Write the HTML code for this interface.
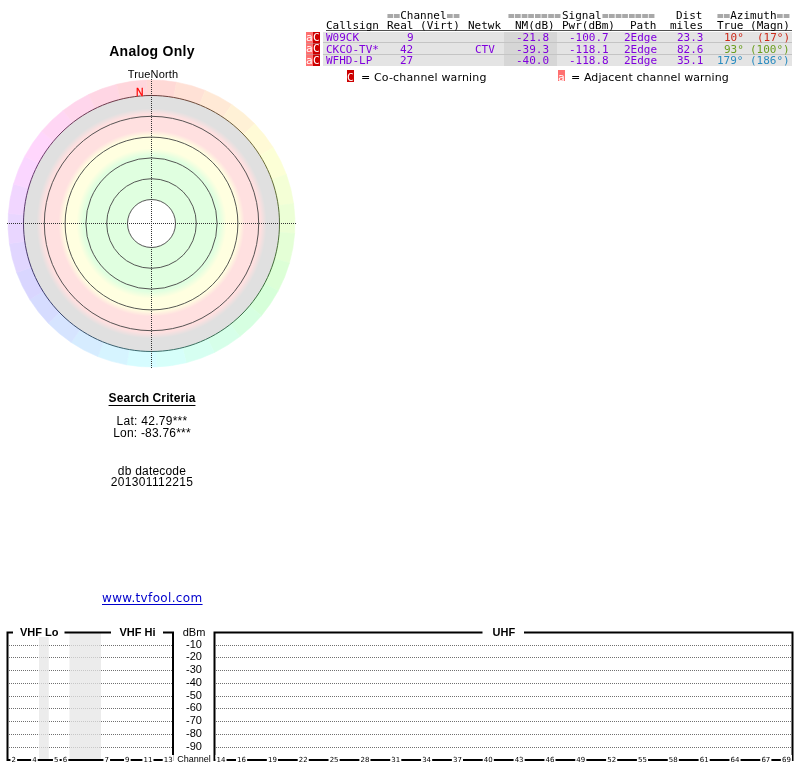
<!DOCTYPE html>
<html><head><meta charset="utf-8"><title>TV Fool</title>
<style>
html,body{margin:0;padding:0;background:#fff;}
body{width:800px;height:768px;overflow:hidden;position:relative;}
.a{position:absolute;white-space:pre;will-change:transform;}
.sans{font-family:"Liberation Sans",Arial,sans-serif;}
.dv{font-family:"DejaVu Sans",sans-serif;}
.m{font-family:"DejaVu Sans Mono",monospace;font-size:11px;line-height:11px;}
.ct{font-family:"Liberation Sans",Arial,sans-serif;font-weight:bold;font-size:11px;}
.dl{font-family:"Liberation Sans",Arial,sans-serif;font-size:11px;text-anchor:middle;}
.ch{font-family:"Liberation Sans",Arial,sans-serif;font-size:9px;text-anchor:middle;}
.cl{font-family:"DejaVu Sans",sans-serif;font-size:7px;}
.eq{color:#a8a8a8;text-shadow:0 1px 0 #a8a8a8;}
.pu{color:#8000dd;}
.row{position:absolute;left:323px;width:469px;height:11px;background:#e4e4e4;}
.nm{position:absolute;left:504px;width:53px;height:11px;background:#d6d6d6;}
.sep{position:absolute;left:323px;width:469px;height:1px;background:#c4c4c4;}
.fsep{position:absolute;left:306px;width:14px;height:1px;background:rgba(175,175,175,0.45);}
.fa{position:absolute;left:306px;width:7px;background:#ff7070;color:#fff;}
.fc{position:absolute;left:313px;width:7px;background:#cc0000;color:#fff;}
</style></head><body>
<div class="a sans" style="left:0;top:43px;width:304px;text-align:center;font-weight:bold;font-size:14px;letter-spacing:0.3px;">Analog Only</div>
<div class="a sans" style="left:0.5px;top:68px;width:304px;text-align:center;font-size:11px;letter-spacing:0.15px;">TrueNorth</div>
<svg class="a" style="left:0;top:0" width="305" height="380" viewBox="0 0 305 380">
<defs><radialGradient id="rg" cx="151.5" cy="223.5" r="128" gradientUnits="userSpaceOnUse"><stop offset="0.0000" stop-color="#e0ffe0"/><stop offset="0.5312" stop-color="#e0ffe0"/><stop offset="0.5859" stop-color="#ffffe0"/><stop offset="0.6797" stop-color="#ffffe0"/><stop offset="0.7266" stop-color="#ffe0e0"/><stop offset="0.8516" stop-color="#ffe0e0"/><stop offset="0.8984" stop-color="#e0e0e0"/><stop offset="1.0000" stop-color="#e0e0e0"/></radialGradient></defs>
<path d="M146.49 80.09A143.5 143.5 0 0 1 176.42 82.18L173.55 98.43A127.0 127.0 0 0 0 147.07 96.58Z" fill="#ffd9d6" stroke="#ffd9d6" stroke-width="0.6"/>
<path d="M176.42 82.18A143.5 143.5 0 0 1 205.26 90.45L199.08 105.75A127.0 127.0 0 0 0 173.55 98.43Z" fill="#ffe1d6" stroke="#ffe1d6" stroke-width="0.6"/>
<path d="M205.26 90.45A143.5 143.5 0 0 1 231.74 104.53L222.52 118.21A127.0 127.0 0 0 0 199.08 105.75Z" fill="#ffe9d6" stroke="#ffe9d6" stroke-width="0.6"/>
<path d="M231.74 104.53A143.5 143.5 0 0 1 254.73 123.82L242.86 135.28A127.0 127.0 0 0 0 222.52 118.21Z" fill="#fff1d6" stroke="#fff1d6" stroke-width="0.6"/>
<path d="M254.73 123.82A143.5 143.5 0 0 1 273.19 147.46L259.20 156.20A127.0 127.0 0 0 0 242.86 135.28Z" fill="#fffad6" stroke="#fffad6" stroke-width="0.6"/>
<path d="M273.19 147.46A143.5 143.5 0 0 1 286.35 174.42L270.84 180.06A127.0 127.0 0 0 0 259.20 156.20Z" fill="#fcffd6" stroke="#fcffd6" stroke-width="0.6"/>
<path d="M286.35 174.42A143.5 143.5 0 0 1 293.60 203.53L277.26 205.83A127.0 127.0 0 0 0 270.84 180.06Z" fill="#f4ffd6" stroke="#f4ffd6" stroke-width="0.6"/>
<path d="M293.60 203.53A143.5 143.5 0 0 1 294.65 233.51L278.19 232.36A127.0 127.0 0 0 0 277.26 205.83Z" fill="#ecffd6" stroke="#ecffd6" stroke-width="0.6"/>
<path d="M294.65 233.51A143.5 143.5 0 0 1 289.44 263.05L273.58 258.51A127.0 127.0 0 0 0 278.19 232.36Z" fill="#e4ffd6" stroke="#e4ffd6" stroke-width="0.6"/>
<path d="M289.44 263.05A143.5 143.5 0 0 1 278.20 290.87L263.63 283.12A127.0 127.0 0 0 0 273.58 258.51Z" fill="#dcffd6" stroke="#dcffd6" stroke-width="0.6"/>
<path d="M278.20 290.87A143.5 143.5 0 0 1 261.43 315.74L248.79 305.13A127.0 127.0 0 0 0 263.63 283.12Z" fill="#d6ffd9" stroke="#d6ffd9" stroke-width="0.6"/>
<path d="M261.43 315.74A143.5 143.5 0 0 1 239.85 336.58L229.69 323.58A127.0 127.0 0 0 0 248.79 305.13Z" fill="#d6ffe1" stroke="#d6ffe1" stroke-width="0.6"/>
<path d="M239.85 336.58A143.5 143.5 0 0 1 214.41 352.48L207.17 337.65A127.0 127.0 0 0 0 229.69 323.58Z" fill="#d6ffe9" stroke="#d6ffe9" stroke-width="0.6"/>
<path d="M214.41 352.48A143.5 143.5 0 0 1 186.22 362.74L182.22 346.73A127.0 127.0 0 0 0 207.17 337.65Z" fill="#d6fff1" stroke="#d6fff1" stroke-width="0.6"/>
<path d="M186.22 362.74A143.5 143.5 0 0 1 156.51 366.91L155.93 350.42A127.0 127.0 0 0 0 182.22 346.73Z" fill="#d6fffa" stroke="#d6fffa" stroke-width="0.6"/>
<path d="M156.51 366.91A143.5 143.5 0 0 1 126.58 364.82L129.45 348.57A127.0 127.0 0 0 0 155.93 350.42Z" fill="#d6fcff" stroke="#d6fcff" stroke-width="0.6"/>
<path d="M126.58 364.82A143.5 143.5 0 0 1 97.74 356.55L103.92 341.25A127.0 127.0 0 0 0 129.45 348.57Z" fill="#d6f4ff" stroke="#d6f4ff" stroke-width="0.6"/>
<path d="M97.74 356.55A143.5 143.5 0 0 1 71.26 342.47L80.48 328.79A127.0 127.0 0 0 0 103.92 341.25Z" fill="#d6ecff" stroke="#d6ecff" stroke-width="0.6"/>
<path d="M71.26 342.47A143.5 143.5 0 0 1 48.27 323.18L60.14 311.72A127.0 127.0 0 0 0 80.48 328.79Z" fill="#d6e4ff" stroke="#d6e4ff" stroke-width="0.6"/>
<path d="M48.27 323.18A143.5 143.5 0 0 1 29.81 299.54L43.80 290.80A127.0 127.0 0 0 0 60.14 311.72Z" fill="#d6dcff" stroke="#d6dcff" stroke-width="0.6"/>
<path d="M29.81 299.54A143.5 143.5 0 0 1 16.65 272.58L32.16 266.94A127.0 127.0 0 0 0 43.80 290.80Z" fill="#d9d6ff" stroke="#d9d6ff" stroke-width="0.6"/>
<path d="M16.65 272.58A143.5 143.5 0 0 1 9.40 243.47L25.74 241.17A127.0 127.0 0 0 0 32.16 266.94Z" fill="#e1d6ff" stroke="#e1d6ff" stroke-width="0.6"/>
<path d="M9.40 243.47A143.5 143.5 0 0 1 8.35 213.49L24.81 214.64A127.0 127.0 0 0 0 25.74 241.17Z" fill="#e9d6ff" stroke="#e9d6ff" stroke-width="0.6"/>
<path d="M8.35 213.49A143.5 143.5 0 0 1 13.56 183.95L29.42 188.49A127.0 127.0 0 0 0 24.81 214.64Z" fill="#f1d6ff" stroke="#f1d6ff" stroke-width="0.6"/>
<path d="M13.56 183.95A143.5 143.5 0 0 1 24.80 156.13L39.37 163.88A127.0 127.0 0 0 0 29.42 188.49Z" fill="#fad6ff" stroke="#fad6ff" stroke-width="0.6"/>
<path d="M24.80 156.13A143.5 143.5 0 0 1 41.57 131.26L54.21 141.87A127.0 127.0 0 0 0 39.37 163.88Z" fill="#ffd6fc" stroke="#ffd6fc" stroke-width="0.6"/>
<path d="M41.57 131.26A143.5 143.5 0 0 1 63.15 110.42L73.31 123.42A127.0 127.0 0 0 0 54.21 141.87Z" fill="#ffd6f4" stroke="#ffd6f4" stroke-width="0.6"/>
<path d="M63.15 110.42A143.5 143.5 0 0 1 88.59 94.52L95.83 109.35A127.0 127.0 0 0 0 73.31 123.42Z" fill="#ffd6ec" stroke="#ffd6ec" stroke-width="0.6"/>
<path d="M88.59 94.52A143.5 143.5 0 0 1 116.78 84.26L120.78 100.27A127.0 127.0 0 0 0 95.83 109.35Z" fill="#ffd6e4" stroke="#ffd6e4" stroke-width="0.6"/>
<path d="M116.78 84.26A143.5 143.5 0 0 1 146.49 80.09L147.07 96.58A127.0 127.0 0 0 0 120.78 100.27Z" fill="#ffd6dc" stroke="#ffd6dc" stroke-width="0.6"/>
<circle cx="151.5" cy="223.5" r="128" fill="url(#rg)"/>
<circle cx="151.5" cy="223.5" r="24.00" fill="#fff"/>
<circle cx="151.5" cy="223.5" r="24.00" fill="none" stroke="#444" stroke-width="0.9"/><circle cx="151.5" cy="223.5" r="44.80" fill="none" stroke="#444" stroke-width="0.9"/><circle cx="151.5" cy="223.5" r="65.60" fill="none" stroke="#444" stroke-width="0.9"/><circle cx="151.5" cy="223.5" r="86.40" fill="none" stroke="#444" stroke-width="0.9"/><circle cx="151.5" cy="223.5" r="107.20" fill="none" stroke="#444" stroke-width="0.9"/><path d="M145.92 95.62A128 128 0 0 1 157.08 95.62" fill="none" stroke="#6d3b3b" stroke-width="1"/><path d="M157.08 95.62A128 128 0 0 1 168.21 96.60" fill="none" stroke="#6d3f3b" stroke-width="1"/><path d="M168.21 96.60A128 128 0 0 1 179.20 98.53" fill="none" stroke="#6d433b" stroke-width="1"/><path d="M179.20 98.53A128 128 0 0 1 189.99 101.42" fill="none" stroke="#6d483b" stroke-width="1"/><path d="M189.99 101.42A128 128 0 0 1 200.48 105.24" fill="none" stroke="#6d4c3b" stroke-width="1"/><path d="M200.48 105.24A128 128 0 0 1 210.60 109.96" fill="none" stroke="#6d503b" stroke-width="1"/><path d="M210.60 109.96A128 128 0 0 1 220.27 115.55" fill="none" stroke="#6d543b" stroke-width="1"/><path d="M220.27 115.55A128 128 0 0 1 229.42 121.95" fill="none" stroke="#6d583b" stroke-width="1"/><path d="M229.42 121.95A128 128 0 0 1 237.98 129.13" fill="none" stroke="#6d5d3b" stroke-width="1"/><path d="M237.98 129.13A128 128 0 0 1 245.87 137.02" fill="none" stroke="#6d613b" stroke-width="1"/><path d="M245.87 137.02A128 128 0 0 1 253.05 145.58" fill="none" stroke="#6d653b" stroke-width="1"/><path d="M253.05 145.58A128 128 0 0 1 259.45 154.73" fill="none" stroke="#6d693b" stroke-width="1"/><path d="M259.45 154.73A128 128 0 0 1 265.04 164.40" fill="none" stroke="#6d6d3b" stroke-width="1"/><path d="M265.04 164.40A128 128 0 0 1 269.76 174.52" fill="none" stroke="#696d3b" stroke-width="1"/><path d="M269.76 174.52A128 128 0 0 1 273.58 185.01" fill="none" stroke="#656d3b" stroke-width="1"/><path d="M273.58 185.01A128 128 0 0 1 276.47 195.80" fill="none" stroke="#616d3b" stroke-width="1"/><path d="M276.47 195.80A128 128 0 0 1 278.40 206.79" fill="none" stroke="#5d6d3b" stroke-width="1"/><path d="M278.40 206.79A128 128 0 0 1 279.38 217.92" fill="none" stroke="#586d3b" stroke-width="1"/><path d="M279.38 217.92A128 128 0 0 1 279.38 229.08" fill="none" stroke="#546d3b" stroke-width="1"/><path d="M279.38 229.08A128 128 0 0 1 278.40 240.21" fill="none" stroke="#506d3b" stroke-width="1"/><path d="M278.40 240.21A128 128 0 0 1 276.47 251.20" fill="none" stroke="#4c6d3b" stroke-width="1"/><path d="M276.47 251.20A128 128 0 0 1 273.58 261.99" fill="none" stroke="#486d3b" stroke-width="1"/><path d="M273.58 261.99A128 128 0 0 1 269.76 272.48" fill="none" stroke="#436d3b" stroke-width="1"/><path d="M269.76 272.48A128 128 0 0 1 265.04 282.60" fill="none" stroke="#3f6d3b" stroke-width="1"/><path d="M265.04 282.60A128 128 0 0 1 259.45 292.27" fill="none" stroke="#3b6d3b" stroke-width="1"/><path d="M259.45 292.27A128 128 0 0 1 253.05 301.42" fill="none" stroke="#3b6d3f" stroke-width="1"/><path d="M253.05 301.42A128 128 0 0 1 245.87 309.98" fill="none" stroke="#3b6d43" stroke-width="1"/><path d="M245.87 309.98A128 128 0 0 1 237.98 317.87" fill="none" stroke="#3b6d48" stroke-width="1"/><path d="M237.98 317.87A128 128 0 0 1 229.42 325.05" fill="none" stroke="#3b6d4c" stroke-width="1"/><path d="M229.42 325.05A128 128 0 0 1 220.27 331.45" fill="none" stroke="#3b6d50" stroke-width="1"/><path d="M220.27 331.45A128 128 0 0 1 210.60 337.04" fill="none" stroke="#3b6d54" stroke-width="1"/><path d="M210.60 337.04A128 128 0 0 1 200.48 341.76" fill="none" stroke="#3b6d58" stroke-width="1"/><path d="M200.48 341.76A128 128 0 0 1 189.99 345.58" fill="none" stroke="#3b6d5d" stroke-width="1"/><path d="M189.99 345.58A128 128 0 0 1 179.20 348.47" fill="none" stroke="#3b6d61" stroke-width="1"/><path d="M179.20 348.47A128 128 0 0 1 168.21 350.40" fill="none" stroke="#3b6d65" stroke-width="1"/><path d="M168.21 350.40A128 128 0 0 1 157.08 351.38" fill="none" stroke="#3b6d69" stroke-width="1"/><path d="M157.08 351.38A128 128 0 0 1 145.92 351.38" fill="none" stroke="#3b6d6d" stroke-width="1"/><path d="M145.92 351.38A128 128 0 0 1 134.79 350.40" fill="none" stroke="#3b696d" stroke-width="1"/><path d="M134.79 350.40A128 128 0 0 1 123.80 348.47" fill="none" stroke="#3b656d" stroke-width="1"/><path d="M123.80 348.47A128 128 0 0 1 113.01 345.58" fill="none" stroke="#3b616d" stroke-width="1"/><path d="M113.01 345.58A128 128 0 0 1 102.52 341.76" fill="none" stroke="#3b5d6d" stroke-width="1"/><path d="M102.52 341.76A128 128 0 0 1 92.40 337.04" fill="none" stroke="#3b586d" stroke-width="1"/><path d="M92.40 337.04A128 128 0 0 1 82.73 331.45" fill="none" stroke="#3b546d" stroke-width="1"/><path d="M82.73 331.45A128 128 0 0 1 73.58 325.05" fill="none" stroke="#3b506d" stroke-width="1"/><path d="M73.58 325.05A128 128 0 0 1 65.02 317.87" fill="none" stroke="#3b4c6d" stroke-width="1"/><path d="M65.02 317.87A128 128 0 0 1 57.13 309.98" fill="none" stroke="#3b486d" stroke-width="1"/><path d="M57.13 309.98A128 128 0 0 1 49.95 301.42" fill="none" stroke="#3b436d" stroke-width="1"/><path d="M49.95 301.42A128 128 0 0 1 43.55 292.27" fill="none" stroke="#3b3f6d" stroke-width="1"/><path d="M43.55 292.27A128 128 0 0 1 37.96 282.60" fill="none" stroke="#3b3b6d" stroke-width="1"/><path d="M37.96 282.60A128 128 0 0 1 33.24 272.48" fill="none" stroke="#3f3b6d" stroke-width="1"/><path d="M33.24 272.48A128 128 0 0 1 29.42 261.99" fill="none" stroke="#433b6d" stroke-width="1"/><path d="M29.42 261.99A128 128 0 0 1 26.53 251.20" fill="none" stroke="#483b6d" stroke-width="1"/><path d="M26.53 251.20A128 128 0 0 1 24.60 240.21" fill="none" stroke="#4c3b6d" stroke-width="1"/><path d="M24.60 240.21A128 128 0 0 1 23.62 229.08" fill="none" stroke="#503b6d" stroke-width="1"/><path d="M23.62 229.08A128 128 0 0 1 23.62 217.92" fill="none" stroke="#543b6d" stroke-width="1"/><path d="M23.62 217.92A128 128 0 0 1 24.60 206.79" fill="none" stroke="#583b6d" stroke-width="1"/><path d="M24.60 206.79A128 128 0 0 1 26.53 195.80" fill="none" stroke="#5d3b6d" stroke-width="1"/><path d="M26.53 195.80A128 128 0 0 1 29.42 185.01" fill="none" stroke="#613b6d" stroke-width="1"/><path d="M29.42 185.01A128 128 0 0 1 33.24 174.52" fill="none" stroke="#653b6d" stroke-width="1"/><path d="M33.24 174.52A128 128 0 0 1 37.96 164.40" fill="none" stroke="#693b6d" stroke-width="1"/><path d="M37.96 164.40A128 128 0 0 1 43.55 154.73" fill="none" stroke="#6d3b6d" stroke-width="1"/><path d="M43.55 154.73A128 128 0 0 1 49.95 145.58" fill="none" stroke="#6d3b69" stroke-width="1"/><path d="M49.95 145.58A128 128 0 0 1 57.13 137.02" fill="none" stroke="#6d3b65" stroke-width="1"/><path d="M57.13 137.02A128 128 0 0 1 65.02 129.13" fill="none" stroke="#6d3b61" stroke-width="1"/><path d="M65.02 129.13A128 128 0 0 1 73.58 121.95" fill="none" stroke="#6d3b5d" stroke-width="1"/><path d="M73.58 121.95A128 128 0 0 1 82.73 115.55" fill="none" stroke="#6d3b58" stroke-width="1"/><path d="M82.73 115.55A128 128 0 0 1 92.40 109.96" fill="none" stroke="#6d3b54" stroke-width="1"/><path d="M92.40 109.96A128 128 0 0 1 102.52 105.24" fill="none" stroke="#6d3b50" stroke-width="1"/><path d="M102.52 105.24A128 128 0 0 1 113.01 101.42" fill="none" stroke="#6d3b4c" stroke-width="1"/><path d="M113.01 101.42A128 128 0 0 1 123.80 98.53" fill="none" stroke="#6d3b48" stroke-width="1"/><path d="M123.80 98.53A128 128 0 0 1 134.79 96.60" fill="none" stroke="#6d3b43" stroke-width="1"/><path d="M134.79 96.60A128 128 0 0 1 145.92 95.62" fill="none" stroke="#6d3b3f" stroke-width="1"/>
<line x1="7" y1="223.5" x2="296" y2="223.5" stroke="#333" stroke-width="1" stroke-dasharray="1 1"/>
<line x1="151.5" y1="79" x2="151.5" y2="368" stroke="#333" stroke-width="1" stroke-dasharray="1 1"/>
</svg>
<div class="a sans" style="left:136px;top:86.3px;font-size:10.5px;color:#f00;text-shadow:0 0 1px #fff,0 0 1px #fff;-webkit-text-stroke:0.3px #f00;">N</div>

<div class="a sans" style="left:0;top:391.25px;width:304px;text-align:center;font-weight:bold;font-size:12px;letter-spacing:0.1px;text-decoration:underline;text-underline-offset:2.5px;">Search Criteria</div>
<div class="a sans" style="left:0;top:414.5px;width:304px;text-align:center;font-size:12px;line-height:13px;letter-spacing:0.28px;">Lat: 42.79***</div>
<div class="a sans" style="left:0;top:427.2px;width:304px;text-align:center;font-size:12px;line-height:13px;letter-spacing:0.2px;">Lon: -83.76***</div>
<div class="a sans" style="left:0;top:464.5px;width:304px;text-align:center;font-size:12px;line-height:12px;letter-spacing:0.2px;">db datecode</div>
<div class="a sans" style="left:0;top:476.4px;width:304px;text-align:center;font-size:12px;line-height:12px;letter-spacing:0.35px;">201301112215</div>
<div class="a dv" style="left:102px;top:591.25px;font-size:12px;color:#0000cc;text-decoration:underline;text-underline-offset:2px;letter-spacing:0.35px;">www.tvfool.com</div>

<!-- table -->
<div class="row" style="top:32px"></div>
<div class="row" style="top:43px"></div>
<div class="row" style="top:55px"></div>
<div class="nm" style="top:32px"></div>
<div class="nm" style="top:43px"></div>
<div class="nm" style="top:55px"></div>
<div class="sep" style="top:42px"></div>
<div class="sep" style="top:54px"></div>
<div class="a" style="left:326px;top:30px;width:466px;height:1px;background:#505050;"></div>

<div class="a m" style="left:387px;top:9.5px"><span class="eq">==</span>Channel<span class="eq">==</span></div>
<div class="a m" style="left:507.5px;top:9.5px"><span class="eq">========</span></div><div class="a m" style="left:562.2px;top:9.5px">Signal</div><div class="a m" style="left:601.9px;top:9.5px"><span class="eq">========</span></div>
<div class="a m" style="left:676px;top:9.5px">Dist</div>
<div class="a m" style="left:717.2px;top:9.5px"><span class="eq">==</span>Azimuth<span class="eq">==</span></div>

<div class="a m" style="left:326px;top:20px">Callsign</div>
<div class="a m" style="left:387px;top:20px">Real (Virt)</div>
<div class="a m" style="left:468.4px;top:20px">Netwk</div>
<div class="a m" style="left:515.4px;top:20px">NM(dB)</div>
<div class="a m" style="left:562px;top:20px">Pwr(dBm)</div>
<div class="a m" style="left:629.5px;top:20px">Path</div>
<div class="a m" style="left:670px;top:20px">miles</div>
<div class="a m" style="left:717.2px;top:20px">True (Magn)</div>

<div class="a m pu" style="left:326px;top:32px">W09CK</div>
<div class="a m pu" style="left:326px;top:43.5px">CKCO-TV*</div>
<div class="a m pu" style="left:326px;top:55px">WFHD-LP</div>
<div class="a m pu" style="left:407px;top:32px">9</div>
<div class="a m pu" style="left:400.4px;top:43.5px">42</div>
<div class="a m pu" style="left:400.4px;top:55px">27</div>
<div class="a m pu" style="left:475px;top:43.5px">CTV</div>
<div class="a m pu" style="left:515.5px;top:32px">-21.8</div>
<div class="a m pu" style="left:515.5px;top:43.5px">-39.3</div>
<div class="a m pu" style="left:515.5px;top:55px">-40.0</div>
<div class="a m pu" style="left:569px;top:32px">-100.7</div>
<div class="a m pu" style="left:569px;top:43.5px">-118.1</div>
<div class="a m pu" style="left:569px;top:55px">-118.8</div>
<div class="a m pu" style="left:623.5px;top:32px">2Edge</div>
<div class="a m pu" style="left:623.5px;top:43.5px">2Edge</div>
<div class="a m pu" style="left:623.5px;top:55px">2Edge</div>
<div class="a m pu" style="left:677px;top:32px">23.3</div>
<div class="a m pu" style="left:677px;top:43.5px">82.6</div>
<div class="a m pu" style="left:677px;top:55px">35.1</div>
<div class="a m" style="left:723.8px;top:32px;color:#cc2a1a">10°</div><div class="a m" style="left:756.8px;top:32px;color:#cc2a1a">(17°)</div>
<div class="a m" style="left:723.8px;top:43.5px;color:#6a9e1e">93°</div><div class="a m" style="left:750.2px;top:43.5px;color:#6a9e1e">(100°)</div>
<div class="a m" style="left:717.2px;top:55px;color:#2a8cc0">179°</div><div class="a m" style="left:750.2px;top:55px;color:#2a8cc0">(186°)</div>

<div class="fa m" style="top:32px;height:34px;"></div>
<div class="fc m" style="top:32px;height:34px;"></div>
<div class="fsep" style="top:43px"></div><div class="fsep" style="top:54px"></div>
<div class="a m" style="left:306px;top:32px;color:#fff;line-height:11.3px">a<br>a<br>a</div>
<div class="a m" style="left:313px;top:32px;color:#fff;line-height:11.3px">C<br>C<br>C</div>

<!-- legend -->
<div class="a" style="left:346.7px;top:70px;width:7.2px;height:11.7px;background:#cc0000;overflow:hidden;"><div class="a m" style="left:0;top:2.4px;color:#fff">C</div></div>
<div class="a dv" style="left:360.5px;top:71px;font-size:11px;letter-spacing:0.16px;">= Co-channel warning</div>
<div class="a" style="left:557.5px;top:70px;width:6.9px;height:11.4px;background:#ff7070;overflow:hidden;"><div class="a m" style="left:0;top:2px;color:#fff">a</div></div>
<div class="a dv" style="left:571.2px;top:71px;font-size:11px;letter-spacing:0.09px;">= Adjacent channel warning</div>

<svg class="a" style="left:0;top:0" width="800" height="768" viewBox="0 0 800 768"><line x1="9" y1="645.5" x2="172" y2="645.5" stroke="#707070" stroke-dasharray="1 1"/>
<line x1="216" y1="645.5" x2="792" y2="645.5" stroke="#707070" stroke-dasharray="1 1"/>
<line x1="9" y1="657.5" x2="172" y2="657.5" stroke="#707070" stroke-dasharray="1 1"/>
<line x1="216" y1="657.5" x2="792" y2="657.5" stroke="#707070" stroke-dasharray="1 1"/>
<line x1="9" y1="670.5" x2="172" y2="670.5" stroke="#707070" stroke-dasharray="1 1"/>
<line x1="216" y1="670.5" x2="792" y2="670.5" stroke="#707070" stroke-dasharray="1 1"/>
<line x1="9" y1="683.5" x2="172" y2="683.5" stroke="#707070" stroke-dasharray="1 1"/>
<line x1="216" y1="683.5" x2="792" y2="683.5" stroke="#707070" stroke-dasharray="1 1"/>
<line x1="9" y1="696.5" x2="172" y2="696.5" stroke="#707070" stroke-dasharray="1 1"/>
<line x1="216" y1="696.5" x2="792" y2="696.5" stroke="#707070" stroke-dasharray="1 1"/>
<line x1="9" y1="708.5" x2="172" y2="708.5" stroke="#707070" stroke-dasharray="1 1"/>
<line x1="216" y1="708.5" x2="792" y2="708.5" stroke="#707070" stroke-dasharray="1 1"/>
<line x1="9" y1="721.5" x2="172" y2="721.5" stroke="#707070" stroke-dasharray="1 1"/>
<line x1="216" y1="721.5" x2="792" y2="721.5" stroke="#707070" stroke-dasharray="1 1"/>
<line x1="9" y1="734.5" x2="172" y2="734.5" stroke="#707070" stroke-dasharray="1 1"/>
<line x1="216" y1="734.5" x2="792" y2="734.5" stroke="#707070" stroke-dasharray="1 1"/>
<line x1="9" y1="747.5" x2="172" y2="747.5" stroke="#707070" stroke-dasharray="1 1"/>
<line x1="216" y1="747.5" x2="792" y2="747.5" stroke="#707070" stroke-dasharray="1 1"/>
<rect x="39" y="637" width="9.8" height="123" fill="#e6e6e6" fill-opacity="0.75"/>
<rect x="69.5" y="632" width="31.5" height="128" fill="#e6e6e6" fill-opacity="0.75"/>
<path d="M13 632.5H7.5V760H173V632.5H163" fill="none" stroke="#000" stroke-width="2"/>
<path d="M64.5 632.5H111" fill="none" stroke="#000" stroke-width="2"/>
<path d="M482.5 632.5H214.5V760H792.5V632.5H524" fill="none" stroke="#000" stroke-width="2"/>
<text x="20" y="636" class="ct">VHF Lo</text>
<text x="119.5" y="636" class="ct">VHF Hi</text>
<text x="492.5" y="636" class="ct">UHF</text>
<text x="194" y="636" class="dl">dBm</text>
<text x="194" y="647.9" class="dl">-10</text>
<text x="194" y="659.9" class="dl">-20</text>
<text x="194" y="672.7" class="dl">-30</text>
<text x="194" y="685.7" class="dl">-40</text>
<text x="194" y="698.7" class="dl">-50</text>
<text x="194" y="710.8" class="dl">-60</text>
<text x="194" y="723.7" class="dl">-70</text>
<text x="194" y="736.7" class="dl">-80</text>
<text x="194" y="749.7" class="dl">-90</text>
<text x="194" y="761.5" class="ch">Channel</text>
<rect x="10.45" y="755" width="6.65" height="8" fill="#fff"/>
<text x="11.55" y="762" class="cl">2</text>
<rect x="31.10" y="755" width="6.65" height="8" fill="#fff"/>
<text x="32.20" y="762" class="cl">4</text>
<rect x="52.95" y="755" width="6.65" height="8" fill="#fff"/>
<text x="54.05" y="762" class="cl">5</text>
<rect x="61.70" y="755" width="6.65" height="8" fill="#fff"/>
<text x="62.80" y="762" class="cl">6</text>
<rect x="103.40" y="755" width="6.65" height="8" fill="#fff"/>
<text x="104.50" y="762" class="cl">7</text>
<rect x="124.00" y="755" width="6.65" height="8" fill="#fff"/>
<text x="125.10" y="762" class="cl">9</text>
<rect x="142.40" y="755" width="11.10" height="8" fill="#fff"/>
<text x="143.50" y="762" class="cl">11</text>
<rect x="162.70" y="755" width="11.10" height="8" fill="#fff"/>
<text x="163.80" y="762" class="cl">13</text>
<rect x="215.45" y="755" width="11.10" height="8" fill="#fff"/>
<text x="216.55" y="762" class="cl">14</text>
<rect x="236.01" y="755" width="11.10" height="8" fill="#fff"/>
<text x="237.11" y="762" class="cl">16</text>
<rect x="266.85" y="755" width="11.10" height="8" fill="#fff"/>
<text x="267.95" y="762" class="cl">19</text>
<rect x="297.69" y="755" width="11.10" height="8" fill="#fff"/>
<text x="298.79" y="762" class="cl">22</text>
<rect x="328.53" y="755" width="11.10" height="8" fill="#fff"/>
<text x="329.63" y="762" class="cl">25</text>
<rect x="359.37" y="755" width="11.10" height="8" fill="#fff"/>
<text x="360.47" y="762" class="cl">28</text>
<rect x="390.21" y="755" width="11.10" height="8" fill="#fff"/>
<text x="391.31" y="762" class="cl">31</text>
<rect x="421.05" y="755" width="11.10" height="8" fill="#fff"/>
<text x="422.15" y="762" class="cl">34</text>
<rect x="451.89" y="755" width="11.10" height="8" fill="#fff"/>
<text x="452.99" y="762" class="cl">37</text>
<rect x="482.73" y="755" width="11.10" height="8" fill="#fff"/>
<text x="483.83" y="762" class="cl">40</text>
<rect x="513.57" y="755" width="11.10" height="8" fill="#fff"/>
<text x="514.67" y="762" class="cl">43</text>
<rect x="544.41" y="755" width="11.10" height="8" fill="#fff"/>
<text x="545.51" y="762" class="cl">46</text>
<rect x="575.25" y="755" width="11.10" height="8" fill="#fff"/>
<text x="576.35" y="762" class="cl">49</text>
<rect x="606.09" y="755" width="11.10" height="8" fill="#fff"/>
<text x="607.19" y="762" class="cl">52</text>
<rect x="636.93" y="755" width="11.10" height="8" fill="#fff"/>
<text x="638.03" y="762" class="cl">55</text>
<rect x="667.77" y="755" width="11.10" height="8" fill="#fff"/>
<text x="668.87" y="762" class="cl">58</text>
<rect x="698.61" y="755" width="11.10" height="8" fill="#fff"/>
<text x="699.71" y="762" class="cl">61</text>
<rect x="729.45" y="755" width="11.10" height="8" fill="#fff"/>
<text x="730.55" y="762" class="cl">64</text>
<rect x="760.29" y="755" width="11.10" height="8" fill="#fff"/>
<text x="761.39" y="762" class="cl">67</text>
<rect x="780.85" y="755" width="11.10" height="8" fill="#fff"/>
<text x="781.95" y="762" class="cl">69</text></svg>
</body></html>
